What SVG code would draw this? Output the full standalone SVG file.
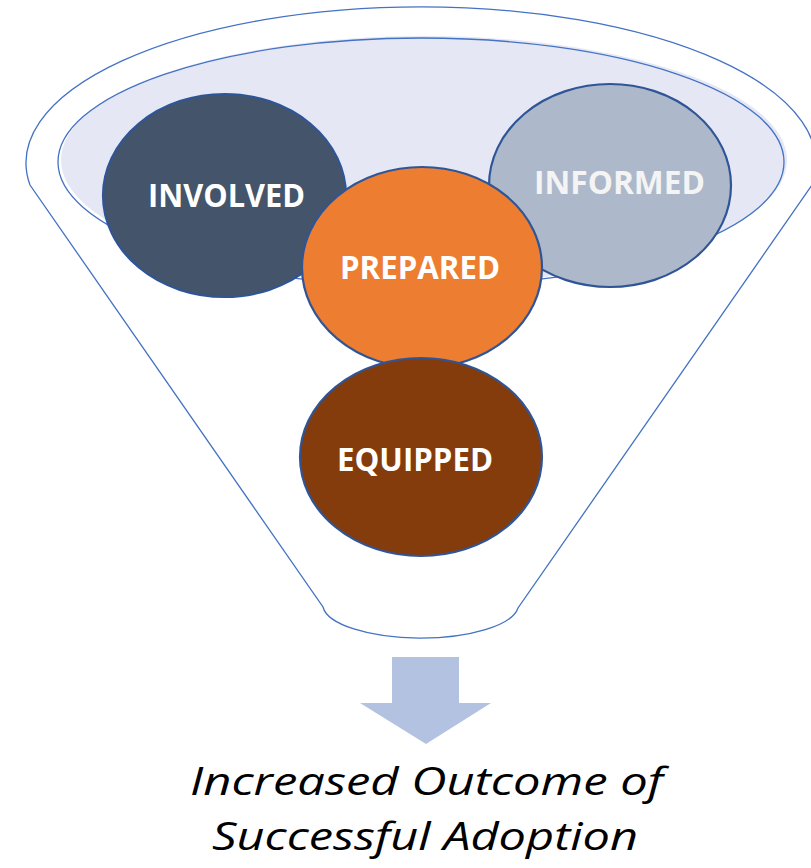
<svg xmlns="http://www.w3.org/2000/svg" width="811" height="868" viewBox="0 0 811 868">
  <style>
    .outline { fill: none; stroke: #4472C4; stroke-width: 1.3; }
    .bubble { stroke: #2F5597; stroke-width: 2.2; }
    .label { font-family: "Open Sans", "Liberation Sans", sans-serif; font-weight: 700; font-size: 32px; fill: #FFFFFF; text-anchor: middle; }
    .caption { font-family: "Open Sans", "Liberation Sans", sans-serif; font-style: italic; font-size: 39px; fill: #000000; text-anchor: middle; }
  </style>
  <rect width="811" height="868" fill="#FFFFFF"/>

  <!-- Funnel body -->
  <g id="funnel">
    <path class="outline" d="M30,185 A395,156 0 1 1 812,185 L518,608 A98,34 0 0 1 323,607 Z"/>
    <!-- Funnel mouth -->
    <ellipse cx="424" cy="160" rx="363" ry="124" fill="#E5E8F4"/>
    <ellipse class="outline" cx="421" cy="162" rx="363" ry="124"/>
  </g>

  <!-- Stages -->
  <g id="involved">
    <ellipse class="bubble" cx="224.5" cy="195.5" rx="121.5" ry="101.5" fill="#44546A"/>
    <text class="label" x="226.5" y="207" textLength="157" lengthAdjust="spacingAndGlyphs">INVOLVED</text>
  </g>
  <g id="informed">
    <ellipse class="bubble" cx="610" cy="185.5" rx="121" ry="101.5" fill="#ADB9CA"/>
    <text class="label" x="619.5" y="194" textLength="171" lengthAdjust="spacingAndGlyphs" style="fill:#F4F4F4">INFORMED</text>
  </g>
  <g id="prepared">
    <ellipse class="bubble" cx="422" cy="267.5" rx="120" ry="100.5" fill="#ED7D31"/>
    <text class="label" x="420" y="279" textLength="160" lengthAdjust="spacingAndGlyphs">PREPARED</text>
  </g>
  <g id="equipped">
    <ellipse class="bubble" cx="421" cy="457" rx="121" ry="99" fill="#843C0C"/>
    <text class="label" x="415" y="471" textLength="156" lengthAdjust="spacingAndGlyphs">EQUIPPED</text>
  </g>

  <!-- Output arrow -->
  <g id="connectors">
    <path d="M392,657 L459,657 L459,703 L491,703 L426,744 L360,703 L392,703 Z" fill="#B4C2E2"/>
  </g>

  <!-- Outcome -->
  <g id="outcome">
    <text class="caption" x="426.5" y="795" textLength="473" lengthAdjust="spacingAndGlyphs">Increased Outcome of</text>
    <text class="caption" x="425" y="850" textLength="426" lengthAdjust="spacingAndGlyphs">Successful Adoption</text>
  </g>
</svg>
